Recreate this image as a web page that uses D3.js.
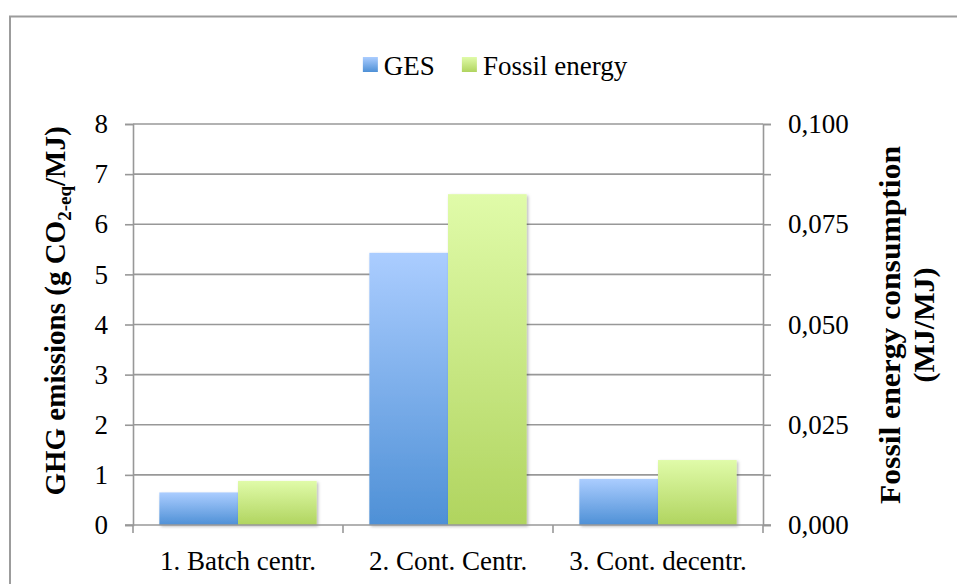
<!DOCTYPE html>
<html>
<head>
<meta charset="utf-8">
<script src="https://cdn.jsdelivr.net/npm/d3@7"></script>
<style>
  body { margin: 0; background: #fff; }
  svg { display: block; }
  text { font-family: "Liberation Serif", "Times New Roman", serif; fill: #000; }
</style>
</head>
<body>
<svg id="chart" width="957" height="584"></svg>
<script>
// Categories and series
const categories = ["1. Batch centr.", "2. Cont. Centr.", "3. Cont. decentr."];
const seriesNames = ["GES", "Fossil energy"];
// GHG emissions, g CO2-eq/MJ (left axis)
const ghgValues = [0.65, 5.43, 0.92];
// Fossil energy consumption, MJ/MJ (right axis)
const fossilValues = [0.011, 0.0825, 0.0162];
// Axis ticks
const leftTicks = [0, 1, 2, 3, 4, 5, 6, 7, 8];
const rightTickMarks = [0, 0.0125, 0.025, 0.0375, 0.05, 0.0625, 0.075, 0.0875, 0.1];
const rightTickLabels = [0, 0.025, 0.05, 0.075, 0.1];

const svg = d3.select("#chart");
const plot = { left: 133, right: 763, top: 124, bottom: 525 };
const gridColor = "#989898";

// Outer frame (runs off the right and bottom edges)
svg.append("rect")
  .attr("x", 10).attr("y", 16.5)
  .attr("width", 1000).attr("height", 700)
  .attr("fill", "none").attr("stroke", "#9c9c9c").attr("stroke-width", 2);

const defs = svg.append("defs");
function gradient(id, top, bottom) {
  const g = defs.append("linearGradient").attr("id", id)
    .attr("x1", 0).attr("y1", 0).attr("x2", 0).attr("y2", 1);
  g.append("stop").attr("offset", "0%").attr("stop-color", top);
  g.append("stop").attr("offset", "100%").attr("stop-color", bottom);
}
gradient("gradBlue", "#abcdff", "#4e90d6");
gradient("gradGreen", "#e0fba9", "#b0d45f");
const shadow = defs.append("filter").attr("id", "barShadow")
  .attr("x", "-10%").attr("y", "-10%").attr("width", "130%").attr("height", "130%");
shadow.append("feDropShadow").attr("dx", 1.5).attr("dy", 1.5)
  .attr("stdDeviation", 1.8).attr("flood-color", "#000").attr("flood-opacity", 0.28);

// Scales
const x = d3.scaleBand().domain(categories).range([plot.left, plot.right]).padding(0);
const xInner = d3.scaleBand().domain(seriesNames).range([0, x.bandwidth()])
  .paddingInner(0).paddingOuter(0.335);
const yLeft = d3.scaleLinear().domain([0, 8]).range([plot.bottom, plot.top]);
const yRight = d3.scaleLinear().domain([0, 0.1]).range([plot.bottom, plot.top]);

// Horizontal gridlines
svg.append("g").selectAll("line")
  .data(leftTicks.filter(d => d > 0))
  .join("line")
  .attr("x1", plot.left).attr("x2", plot.right)
  .attr("y1", d => yLeft(d)).attr("y2", d => yLeft(d))
  .attr("stroke", gridColor).attr("stroke-width", 1.6);

// Left axis
const leftAxis = svg.append("g")
  .attr("transform", `translate(${plot.left},0)`)
  .call(d3.axisLeft(yLeft).tickValues(leftTicks).tickFormat(d3.format("d"))
    .tickSize(8).tickPadding(17));
leftAxis.select(".domain").attr("stroke", gridColor).attr("stroke-width", 1.6);
leftAxis.selectAll(".tick line").attr("stroke", gridColor).attr("stroke-width", 1.6);
leftAxis.selectAll(".tick text").attr("font-size", 27)
  .style("font-family", "'Liberation Serif', serif").attr("fill", "#000");

// Right axis: marks at every gridline, labels every other one
const commaFmt = d => d3.format(".3f")(d).replace(".", ",");
const rightAxis = svg.append("g")
  .attr("transform", `translate(${plot.right},0)`)
  .call(d3.axisRight(yRight).tickValues(rightTickMarks)
    .tickFormat(d => rightTickLabels.some(v => Math.abs(v - d) < 1e-9) ? commaFmt(d) : "")
    .tickSize(8).tickPadding(17));
rightAxis.select(".domain").attr("stroke", gridColor).attr("stroke-width", 1.6);
rightAxis.selectAll(".tick line").attr("stroke", gridColor).attr("stroke-width", 1.6);
rightAxis.selectAll(".tick text").attr("font-size", 27)
  .style("font-family", "'Liberation Serif', serif").attr("fill", "#000");

// Bars
const rows = categories.map((c, i) => ({ cat: c, ghg: ghgValues[i], fossil: fossilValues[i] }));
const groups = svg.append("g").selectAll("g")
  .data(rows).join("g")
  .attr("transform", d => `translate(${x(d.cat)},0)`);
groups.append("rect")
  .attr("x", xInner("GES")).attr("width", xInner.bandwidth())
  .attr("y", d => yLeft(d.ghg)).attr("height", d => yLeft(0) - yLeft(d.ghg))
  .attr("fill", "url(#gradBlue)").attr("filter", "url(#barShadow)");
groups.append("rect")
  .attr("x", xInner("Fossil energy")).attr("width", xInner.bandwidth())
  .attr("y", d => yRight(d.fossil)).attr("height", d => yRight(0) - yRight(d.fossil))
  .attr("fill", "url(#gradGreen)").attr("filter", "url(#barShadow)");

// Category axis
const bottomAxis = svg.append("g")
  .attr("transform", `translate(0,${plot.bottom})`)
  .call(d3.axisBottom(x).tickSize(0).tickPadding(26));
bottomAxis.select(".domain").remove();
bottomAxis.selectAll(".tick text").attr("font-size", 27)
  .style("font-family", "'Liberation Serif', serif").attr("fill", "#000");
svg.append("line")
  .attr("x1", plot.left - 8).attr("x2", plot.right + 8)
  .attr("y1", plot.bottom).attr("y2", plot.bottom)
  .attr("stroke", gridColor).attr("stroke-width", 1.6);
const boundaries = [plot.left].concat(categories.map(c => x(c) + x.bandwidth()));
svg.append("g").selectAll("line").data(boundaries).join("line")
  .attr("x1", d => d).attr("x2", d => d)
  .attr("y1", plot.bottom).attr("y2", plot.bottom + 8)
  .attr("stroke", gridColor).attr("stroke-width", 1.6);

// Axis titles
const leftTitle = svg.append("text")
  .attr("transform", "translate(65,311) rotate(-90)")
  .attr("text-anchor", "middle")
  .attr("font-size", 29).attr("font-weight", "bold");
leftTitle.append("tspan").text("GHG emissions (g CO");
leftTitle.append("tspan").attr("font-size", 19).attr("dy", 6).text("2-eq");
leftTitle.append("tspan").attr("dy", -6).text("/MJ)");

const rightTitle = svg.append("text")
  .attr("transform", "translate(0,325) rotate(-90)")
  .attr("text-anchor", "middle")
  .attr("font-size", 30).attr("font-weight", "bold");
rightTitle.append("tspan").attr("x", 0).attr("y", 900)
  .attr("textLength", 358).attr("lengthAdjust", "spacingAndGlyphs")
  .text("Fossil energy consumption");
rightTitle.append("tspan").attr("x", 0).attr("y", 934).text("(MJ/MJ)");

// Legend, centred above the plot
const legend = svg.append("g");
const legendItems = [
  { name: seriesNames[0], fill: "url(#gradBlue)" },
  { name: seriesNames[1], fill: "url(#gradGreen)" }
];
let cursor = 0;
legendItems.forEach((item, i) => {
  const g = legend.append("g").attr("transform", `translate(${cursor},0)`);
  g.append("rect").attr("x", 0).attr("y", 57).attr("width", 15).attr("height", 15)
    .attr("fill", item.fill);
  const t = g.append("text").attr("x", 21).attr("y", 75).attr("font-size", 27).text(item.name);
  cursor += 21 + t.node().getComputedTextLength() + 27;
});
const legendWidth = cursor - 27;
legend.attr("transform", `translate(${495 - legendWidth / 2},0)`);
</script>
</body>
</html>
